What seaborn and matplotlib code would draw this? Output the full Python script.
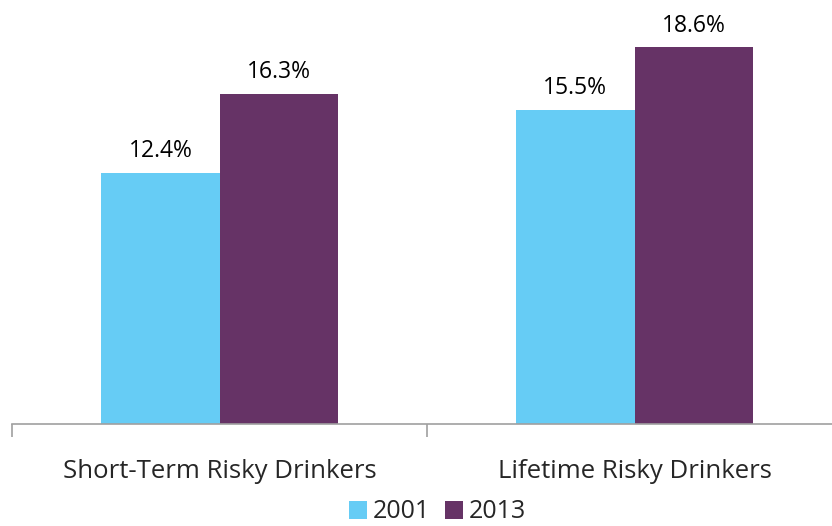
import pandas as pd
import matplotlib.pyplot as plt
import seaborn as sns

# ---------------------------
# Chart data
# ---------------------------
categories = ["Short-Term Risky Drinkers", "Lifetime Risky Drinkers"]
years = ["2001", "2013"]
values_2001 = [12.4, 15.5]
values_2013 = [16.3, 18.6]
colors = ["#66CCF5", "#663366"]

df = pd.DataFrame({
    "Category": categories * 2,
    "Year": [years[0]] * 2 + [years[1]] * 2,
    "Value": values_2001 + values_2013,
})

sns.set_style("white")
plt.rcParams['font.family'] = ['Open Sans', 'DejaVu Sans']

fig = plt.figure(figsize=(8.32, 5.26), dpi=100)
ax = fig.add_axes([12 / 832, 102 / 526, 820 / 832, 405 / 526])

sns.barplot(data=df, x="Category", y="Value", hue="Year", palette=colors,
            width=0.57, saturation=1, linewidth=0, ax=ax, legend=True)

# value labels above bars
for container in ax.containers:
    ax.bar_label(container, labels=[f"{v:.1f}%" for v in container.datavalues],
                 padding=7, fontsize=16.5, color="#000000")

ax.set_yticks([])
ax.set_xlabel("")
ax.set_ylabel("")

for side in ["top", "right", "left"]:
    ax.spines[side].set_visible(False)
ax.spines["bottom"].set_color("#A0A0A0")
ax.spines["bottom"].set_linewidth(1.2)

# category boundary ticks
ax.set_xticks([0, 1])
ax.set_xticks([-0.5, 0.5, 1.5], minor=True)
ax.tick_params(axis="x", which="major", length=0, labelsize=18.5, pad=25)
ax.tick_params(axis="x", which="minor", length=9, width=1.2, color="#A0A0A0", bottom=True)

ax.set_xlim(-0.5, -0.5 + 820 / 415)
ax.set_ylim(0, 20)

leg = ax.legend(loc="center", bbox_to_anchor=(425 / 820, -0.217), ncol=2,
                frameon=False, fontsize=18, handlelength=0.75, handleheight=0.75,
                handletextpad=0.2, columnspacing=0.6, borderaxespad=0, borderpad=0)

fig.savefig("out.png", dpi=100)
plt.close()
